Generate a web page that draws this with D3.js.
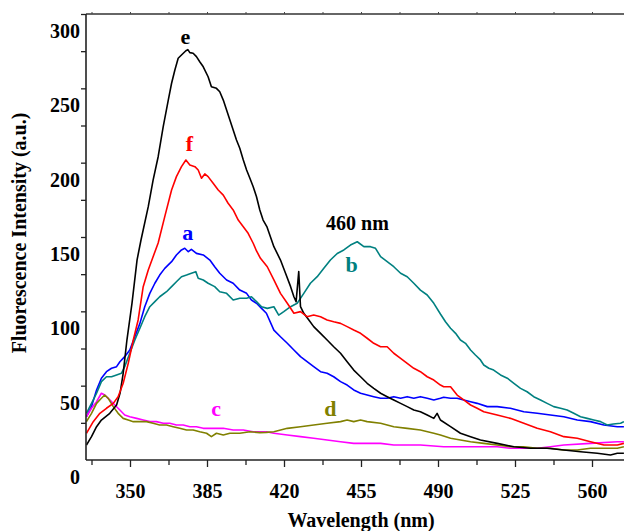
<!DOCTYPE html>
<html>
<head>
<meta charset="utf-8">
<script src="https://cdn.jsdelivr.net/npm/d3@7"></script>
<style>
  html, body { margin: 0; padding: 0; background: #fff; }
  svg { display: block; }
  text { font-family: "Liberation Serif", "Times New Roman", serif; font-weight: bold; }
</style>
</head>
<body>
<svg id="chart" width="624" height="531"></svg>
<script>
// Emission spectra: [wavelength (nm), fluorescence intensity (a.u.)]
const curveA = [[330.2,29.1],[332.5,35.9],[334.8,47.1],[337.0,55.0],[339.3,59.4],[341.6,61.7],[343.9,62.8],[345.4,66.1],[347.6,69.5],[349.9,74.0],[352.2,82.9],[354.5,91.9],[356.7,103.1],[359.0,112.1],[361.3,118.9],[363.5,124.4],[365.8,128.9],[368.9,133.4],[371.1,137.9],[373.4,141.3],[374.9,142.4],[376.5,140.1],[377.9,141.7],[380.2,139.0],[383.3,137.9],[386.3,134.5],[388.5,130.0],[390.8,125.6],[393.9,121.1],[396.9,118.9],[399.9,114.3],[403.0,112.1],[405.2,107.6],[407.5,105.4],[409.8,102.0],[412.0,98.7],[415.4,87.4],[418.4,82.9],[421.5,78.5],[424.5,74.0],[427.5,69.5],[430.5,66.1],[433.5,62.8],[436.6,59.4],[439.6,58.3],[442.6,56.0],[445.7,52.7],[448.7,50.4],[451.7,47.1],[454.8,44.9],[457.8,43.7],[460.8,42.6],[463.9,41.5],[466.9,41.5],[469.9,42.6],[473.0,41.5],[476.0,42.6],[479.0,41.5],[482.0,42.6],[485.1,41.5],[488.1,40.4],[491.1,41.5],[492.6,42.2],[495.7,41.5],[498.7,41.5],[501.7,40.4],[504.8,39.2],[507.8,38.1],[512.4,35.9],[516.9,35.9],[522.9,34.8],[529.0,32.5],[535.1,31.4],[541.1,30.3],[547.2,29.1],[553.3,26.9],[559.3,25.8],[565.4,23.5],[571.5,22.4],[574.5,22.4]];

const curveB = [[330.2,31.4],[332.5,38.1],[334.8,44.9],[337.0,52.7],[339.3,56.0],[341.6,56.0],[343.9,57.2],[346.1,58.3],[347.6,62.8],[349.9,71.8],[352.2,80.7],[354.5,88.6],[356.7,96.4],[359.0,103.1],[361.3,106.5],[363.5,109.8],[366.6,113.2],[368.9,116.6],[371.1,119.9],[373.4,123.3],[375.7,124.4],[377.9,125.6],[379.9,126.7],[381.0,122.2],[383.3,121.1],[385.5,118.9],[388.5,116.6],[390.8,113.2],[393.9,112.1],[396.9,107.6],[399.9,108.8],[403.0,108.8],[405.2,109.8],[407.5,106.5],[409.8,103.1],[412.4,102.0],[415.4,103.1],[417.6,97.5],[419.9,99.8],[423.0,103.1],[426.0,105.4],[429.0,112.1],[432.0,118.9],[435.1,123.3],[438.1,128.9],[441.1,134.5],[444.2,138.9],[447.2,141.3],[450.2,144.6],[453.3,146.8],[456.3,143.5],[459.3,143.5],[461.6,142.4],[463.9,136.8],[466.9,133.4],[469.9,130.0],[473.0,125.6],[476.0,123.3],[479.0,118.9],[482.0,114.3],[485.1,111.0],[488.1,105.4],[491.1,98.2],[493.4,93.0],[495.7,88.6],[498.0,85.2],[500.2,80.7],[502.5,78.5],[504.8,74.0],[507.0,70.6],[509.3,67.3],[510.8,63.9],[513.1,61.7],[515.3,60.5],[518.4,57.2],[521.5,55.0],[524.5,51.6],[527.5,48.2],[530.5,45.9],[533.5,42.6],[536.6,40.4],[539.6,38.1],[542.6,35.9],[545.7,34.8],[548.7,33.6],[551.7,31.4],[554.8,29.1],[557.8,28.0],[560.8,26.9],[563.9,25.8],[566.9,23.5],[569.7,24.2],[573.0,24.7],[574.5,25.8]];

const curveC = [[330.2,29.1],[332.5,34.8],[334.8,39.2],[337.0,44.9],[338.5,43.7],[340.8,40.4],[343.1,37.0],[345.4,33.6],[347.6,30.3],[349.9,29.1],[353.0,28.0],[356.0,26.9],[359.0,25.8],[362.0,25.8],[365.1,24.7],[368.1,24.7],[371.1,23.5],[374.2,23.5],[377.2,22.4],[380.2,22.4],[383.3,21.3],[387.8,21.3],[392.4,21.3],[396.9,20.2],[401.5,20.2],[406.0,19.0],[412.0,19.0],[415.4,18.0],[421.5,16.8],[427.5,15.7],[433.5,14.6],[439.6,13.5],[445.7,12.3],[451.7,11.2],[457.8,11.2],[463.9,11.2],[469.9,10.1],[476.0,10.1],[482.0,10.1],[492.6,8.9],[504.8,8.9],[516.9,8.9],[522.9,7.9],[535.1,7.9],[541.1,8.9],[547.2,10.1],[559.3,11.2],[571.5,12.3],[574.5,12.3]];

const curveD = [[330.2,25.8],[332.5,31.4],[334.8,38.1],[337.0,41.5],[338.5,43.7],[340.1,41.5],[342.4,35.9],[344.6,31.4],[346.9,28.0],[349.2,26.9],[351.5,25.8],[354.5,25.8],[357.5,25.8],[360.5,24.7],[363.5,23.5],[366.6,23.5],[369.6,22.4],[372.6,21.3],[375.7,20.2],[378.7,20.2],[381.7,19.0],[384.8,18.0],[387.0,15.7],[389.3,18.0],[392.4,16.8],[395.4,18.0],[399.9,18.0],[404.5,19.0],[409.0,18.4],[412.0,18.6],[415.4,19.0],[421.5,21.3],[427.5,22.4],[433.5,23.5],[439.6,24.7],[445.7,25.8],[448.7,26.9],[451.7,25.8],[454.8,26.9],[457.8,25.8],[463.9,24.7],[469.9,22.4],[476.0,21.3],[482.0,20.2],[488.1,18.0],[491.1,16.8],[495.7,14.6],[500.2,13.5],[504.8,12.3],[510.8,11.2],[516.9,10.1],[522.9,8.9],[529.0,8.9],[535.1,7.9],[541.1,7.9],[547.2,6.7],[553.3,6.7],[559.3,7.9],[565.4,7.9],[571.5,7.9],[574.5,8.9]];

const curveE = [[330.2,10.1],[332.5,15.7],[334.8,22.4],[337.0,26.9],[340.8,31.4],[343.9,37.0],[345.5,45.0],[346.9,58.3],[348.6,80.7],[350.9,105.4],[353.2,134.5],[355.0,148.0],[358.3,170.4],[360.5,188.3],[362.8,204.0],[365.1,224.2],[367.4,242.1],[368.9,253.4],[370.4,262.3],[371.9,270.2],[373.4,272.4],[375.4,275.3],[376.3,276.0],[377.2,274.0],[378.7,273.6],[380.2,271.3],[381.7,267.9],[383.3,264.5],[385.5,257.8],[387.0,251.1],[389.3,250.0],[390.8,247.7],[392.4,242.1],[393.9,235.4],[395.4,228.7],[396.9,222.0],[398.4,215.3],[399.9,209.7],[401.5,201.8],[403.0,195.1],[404.5,189.5],[406.0,183.8],[407.5,177.1],[409.0,168.2],[410.5,161.4],[412.2,157.0],[415.4,143.5],[418.4,134.5],[420.7,125.6],[423.0,116.6],[424.5,109.8],[425.5,106.5],[426.7,126.7],[427.5,103.1],[429.0,98.7],[431.3,94.2],[433.5,89.7],[436.6,85.2],[439.6,80.7],[442.6,76.2],[445.7,71.8],[448.7,66.1],[451.7,60.5],[454.8,56.0],[457.8,51.6],[460.8,48.2],[463.9,44.9],[466.9,42.6],[469.9,40.4],[473.0,38.1],[476.0,35.9],[479.0,33.6],[482.0,32.5],[485.1,30.3],[488.1,28.0],[489.6,31.4],[491.1,26.9],[495.7,22.4],[500.2,18.0],[504.8,15.7],[509.3,13.5],[516.9,11.2],[524.5,8.9],[532.0,7.9],[539.6,7.9],[547.2,6.7],[554.8,5.6],[562.4,4.5],[568.4,3.4],[571.5,4.5],[574.5,4.5]];

const curveF = [[330.2,18.0],[333.3,25.8],[336.3,31.4],[339.3,34.8],[342.4,38.1],[344.6,42.6],[346.9,51.6],[349.2,65.0],[351.5,80.7],[353.7,94.2],[356.0,116.6],[358.3,127.8],[360.5,136.7],[362.8,146.0],[365.8,163.7],[368.9,181.6],[371.1,190.6],[373.4,197.3],[375.4,201.8],[377.2,198.4],[379.5,197.3],[381.0,195.1],[382.5,189.5],[384.0,192.4],[385.5,190.6],[387.8,186.1],[390.1,181.6],[392.4,178.2],[394.6,172.7],[396.9,168.2],[399.2,161.4],[401.5,156.9],[403.7,152.5],[406.0,145.8],[407.5,140.6],[409.3,135.7],[412.4,130.0],[415.4,121.1],[418.4,112.1],[421.5,105.4],[424.5,98.7],[427.5,99.8],[430.5,96.4],[433.5,97.5],[436.6,96.4],[439.6,94.2],[442.6,93.0],[445.7,91.9],[448.7,89.7],[451.7,87.4],[454.8,85.2],[457.8,81.9],[460.8,78.5],[463.9,76.2],[466.9,76.2],[469.9,71.8],[473.0,68.4],[476.0,65.0],[479.0,61.7],[482.0,59.4],[485.1,56.0],[488.1,53.8],[491.1,50.4],[492.6,49.3],[495.7,49.3],[498.7,43.7],[501.7,40.4],[504.8,37.0],[507.8,34.8],[510.8,32.5],[516.9,30.3],[522.9,28.0],[529.0,24.7],[535.1,21.3],[541.1,19.0],[547.2,15.7],[553.3,14.6],[559.3,12.3],[565.4,10.1],[571.5,10.1],[574.5,11.2]];

const seriesNames  = ["a", "b", "c", "d", "e", "f"];
const seriesData   = [curveA, curveB, curveC, curveD, curveE, curveF];
const seriesColors = ["#0000ff", "#008080", "#ff00ff", "#808000", "#000000", "#ff0000"];

// Curve tags and their anchor points [wavelength, intensity]
const tagText   = ["e", "f", "a", "c", "460 nm", "b", "d"];
const tagAnchor = [[375.2, 280.0], [377.0, 208.0], [376.3, 148.0], [389.1, 29.3], [453.4, 154.8], [450.7, 126.6], [441.1, 29.3]];
const tagColors = ["#000000", "#ff0000", "#0000ff", "#ff00ff", "#000000", "#008080", "#808000"];

const xTickLabels = [350, 385, 420, 455, 490, 525, 560];
const yTickLabels = [0, 50, 100, 150, 200, 250, 300];

const svg = d3.select("#chart");
const plotLeft = 86, plotTop = 14, plotBottom = 460, plotRight = 636;

const x = d3.scaleLinear().domain([330, 580]).range([plotLeft, plotRight]);
const y = d3.scaleLinear().domain([0, 300]).range([plotBottom, plotTop]);

const xMinor = d3.range(332.5, 580, 17.5);
const yMinor = d3.range(0, 301, 25);

// clip region for the curves
svg.append("clipPath").attr("id", "plotClip")
  .append("rect").attr("x", plotLeft).attr("y", plotTop)
  .attr("width", plotRight - plotLeft).attr("height", plotBottom - plotTop);

// Curves
const line = d3.line().x(d => x(d[0])).y(d => y(d[1]));
const plot = svg.append("g").attr("clip-path", "url(#plotClip)");
seriesData.forEach((s, i) => {
  plot.append("path")
    .datum(s)
    .attr("class", "curve-" + seriesNames[i])
    .attr("d", line)
    .attr("fill", "none")
    .attr("stroke", seriesColors[i])
    .attr("stroke-width", 1.6)
    .attr("stroke-linejoin", "round");
});

// Bottom axis
const xAxis = svg.append("g").attr("transform", `translate(0,${plotBottom})`)
  .call(d3.axisBottom(x).tickValues(xMinor).tickSizeOuter(0)
    .tickSize(5).tickFormat(d => xTickLabels.includes(d) ? d : ""));
xAxis.selectAll(".tick line")
  .attr("y2", d => xTickLabels.includes(d) ? 7 : 5)
  .attr("stroke", "#222").attr("stroke-width", 1.3);
xAxis.select(".domain").attr("stroke", "#222").attr("stroke-width", 1.6)
  .attr("d", `M${plotLeft},0H624`);
xAxis.selectAll("text").attr("y", 38).attr("dy", 0)
  .attr("font-size", 20).attr("fill", "#000");

// Top frame with small upward ticks
const xTop = svg.append("g").attr("transform", `translate(0,${plotTop})`)
  .call(d3.axisTop(x).tickValues(xMinor).tickSize(2).tickSizeOuter(0).tickFormat(""));
xTop.selectAll(".tick line").attr("stroke", "#444").attr("stroke-width", 1);
xTop.select(".domain").attr("stroke", "#333").attr("stroke-width", 1.6)
  .attr("d", `M${plotLeft},0H624`);

// Left axis
const yAxis = svg.append("g").attr("transform", `translate(${plotLeft},0)`)
  .call(d3.axisLeft(y).tickValues(yMinor).tickSize(5).tickSizeOuter(0).tickPadding(1)
    .tickFormat(d => yTickLabels.includes(d) ? d : ""));
yAxis.selectAll(".tick line").attr("stroke", "#222").attr("stroke-width", 1.3);
yAxis.select(".domain").attr("stroke", "#222").attr("stroke-width", 1.6)
  .attr("d", `M0,${plotTop}V${plotBottom}`);
yAxis.selectAll("text").attr("transform", "translate(0,17)")
  .attr("font-size", 20).attr("fill", "#000");
yAxis.selectAll(".tick").filter(d => d === 0).select("line").remove();

// Axis titles
svg.append("text")
  .attr("x", 361).attr("y", 527)
  .attr("text-anchor", "middle")
  .attr("font-size", 20)
  .text("Wavelength (nm)");

svg.append("text")
  .attr("transform", "translate(26,233) rotate(-90)")
  .attr("text-anchor", "middle")
  .attr("font-size", 20)
  .text("Fluorescence Intensity (a.u.)");

// Curve tags
tagText.forEach((t, i) => {
  svg.append("text")
    .attr("x", x(tagAnchor[i][0]))
    .attr("y", y(tagAnchor[i][1]))
    .attr("text-anchor", "middle")
    .attr("font-size", t.length > 1 ? 20 : 22)
    .attr("fill", tagColors[i])
    .text(t);
});
</script>
</body>
</html>
